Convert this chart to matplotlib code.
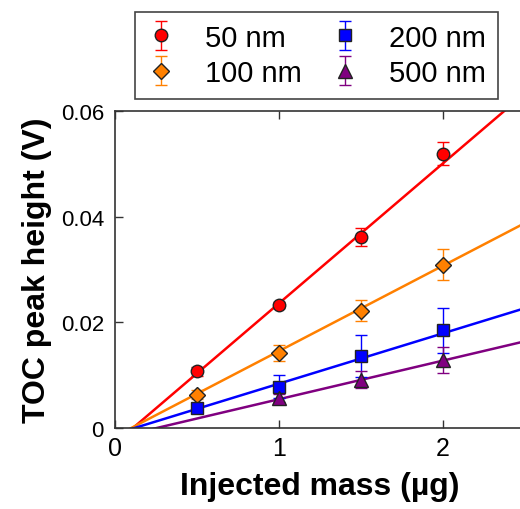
import numpy as np
import matplotlib
matplotlib.use('Agg')
import matplotlib.pyplot as plt

plt.rcParams['font.family'] = ['Liberation Sans', 'DejaVu Sans']

# injected mass (ug)
mass = [0.5, 1.0, 1.5, 2.0]

# TOC peak height (V) per particle size
labels = ['50 nm', '100 nm', '200 nm', '500 nm']
h_50 = [0.0107, 0.0233, 0.0361, 0.0519]
h_100 = [0.0063, 0.0142, 0.0222, 0.0309]
h_200 = [0.0037, 0.0078, 0.0136, 0.0185]
h_500 = [np.nan, 0.0057, 0.0091, 0.0129]
err_50 = [0.0009, 0.0005, 0.0017, 0.0022]
err_100 = [0.0008, 0.0015, 0.0020, 0.0029]
err_200 = [0.0004, 0.0022, 0.0040, 0.0043]
err_500 = [np.nan, 0.0008, 0.0016, 0.0024]

# linear fits (slope, intercept)
fit_slope = [0.0265, 0.01616, 0.00953, 0.00731]
fit_icpt = [-0.0029, -0.0016, -0.00114, -0.00186]

colors = ['#ff0000', '#ff8000', '#0000ff', '#800080']
markers = ['o', 'D', 's', '^']
msizes = [9, 8, 8.5, 9.5]

xticks = [0, 1, 2]
yticks = [0, 0.02, 0.04, 0.06]
ytick_labels = ['0', '0.02', '0.04', '0.06']

fig = plt.figure(figsize=(5.2, 5.1), dpi=100)
ax = fig.add_axes([115 / 520, 81 / 510, 410 / 520, 317 / 510])

heights = [h_50, h_100, h_200, h_500]
errs = [err_50, err_100, err_200, err_500]
xfit = np.linspace(0, 2.5, 50)
handles = []
for i in range(4):
    ax.plot(xfit, fit_slope[i] * xfit + fit_icpt[i], color=colors[i], lw=1.8, zorder=2)
for i in range(4):
    h = ax.errorbar(mass, heights[i], yerr=errs[i], fmt=markers[i], color=colors[i],
                    mfc=colors[i], mec='#222222', mew=1.0, ms=msizes[i],
                    elinewidth=1.0, capsize=4, capthick=1.0, zorder=3)
    handles.append(h)

ax.set_xlim(0, 2.5)
ax.set_ylim(0, 0.06)
ax.set_xticks(xticks)
ax.set_xticklabels([str(t) for t in xticks])
ax.set_yticks(yticks)
ax.set_yticklabels(ytick_labels)
ax.tick_params(direction='in', length=6, width=1, top=True, right=False, color='#333333')
ax.tick_params(axis='x', labelsize=18, pad=6)
ax.tick_params(axis='y', labelsize=16, pad=8)
for s in ax.spines.values():
    s.set_color('#333333')
    s.set_linewidth(1.2)
ax.spines['right'].set_visible(False)

ax.set_xlabel('Injected mass (µg)', fontsize=23, fontweight='bold', labelpad=8)
ax.set_ylabel('TOC peak height (V)', fontsize=23, fontweight='bold', labelpad=6)

leg = fig.legend(handles, labels, loc='upper left', bbox_to_anchor=(135 / 520, 1 - 13 / 510),
                 ncol=2, fontsize=21, handlelength=1.0, handletextpad=1.0,
                 columnspacing=1.0, labelspacing=0.25, borderpad=0.4, borderaxespad=0,
                 fancybox=False, edgecolor='#444444', framealpha=1)
leg.get_frame().set_linewidth(1.2)

plt.savefig('out.png', dpi=100)
